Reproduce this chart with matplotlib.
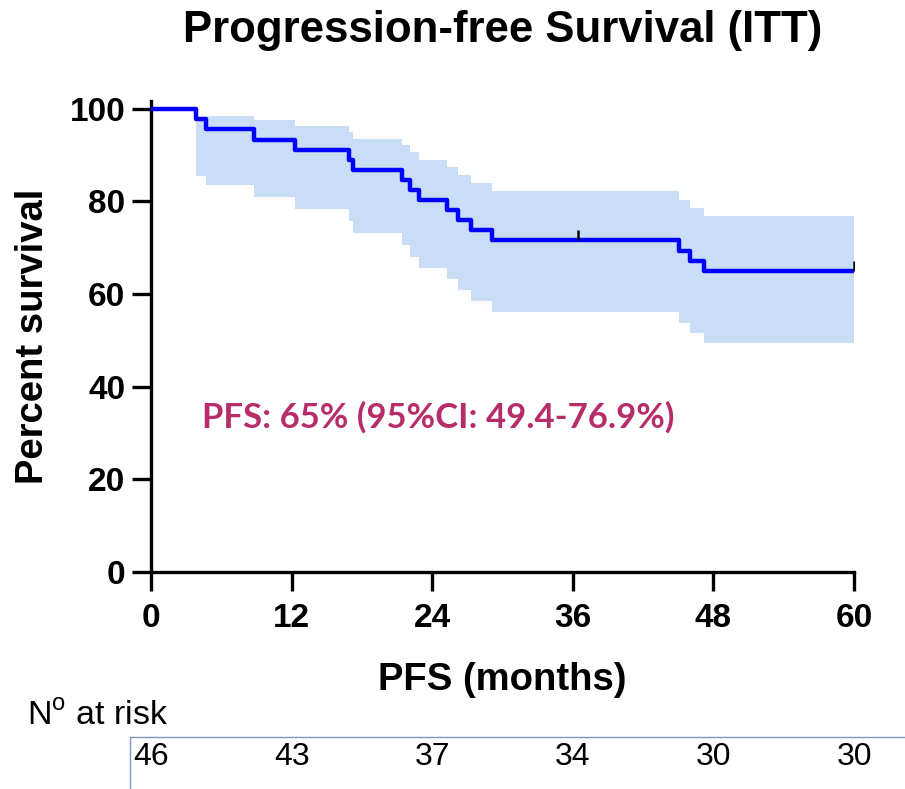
import matplotlib.pyplot as plt
from matplotlib import font_manager

# Kaplan-Meier progression-free survival, ITT population
months = [0, 3.8, 4.7, 8.8, 12.3, 16.9, 17.2, 21.4, 22.1, 22.9, 25.3, 26.2,
          27.3, 29.1, 45.1, 46.0, 47.2, 60]
survival = [100, 97.8, 95.6, 93.3, 91.1, 89.0, 86.9, 84.7, 82.5, 80.3, 78.1,
            76.0, 73.8, 71.6, 69.4, 67.2, 65.0, 65.0]
ci_upper = [100, 97.8, 98.5, 97.5, 96.4, 95.0, 93.6, 92.3, 90.6, 89.0, 87.4,
            85.7, 84.0, 82.3, 80.4, 78.6, 76.9, 76.9]
ci_lower = [100, 85.4, 83.5, 80.9, 78.3, 75.7, 73.1, 70.6, 68.1, 65.7, 63.3,
            60.9, 58.5, 56.2, 53.8, 51.5, 49.4, 49.4]

censor_months = [36.4, 60]
censor_surv = [71.6, 65.0]

risk_months = [0, 12, 24, 36, 48, 60]
at_risk = [46, 43, 37, 34, 30, 30]

installed = {f.name for f in font_manager.fontManager.ttflist}
plt.rcParams['font.family'] = ['Liberation Sans', 'DejaVu Sans']
note_font = 'Lato' if 'Lato' in installed else 'DejaVu Sans'

fig = plt.figure(figsize=(9.05, 7.89), dpi=100)
ax = fig.add_axes([0.1669, 0.2750, 0.7768, 0.5970])

ax.fill_between(months, ci_lower, ci_upper, step='post',
                color='#C9DDF6', linewidth=0, zorder=1)
ax.step(months, survival, where='post', color='#0000FF', lw=3.2, zorder=3)
ax.plot(censor_months, censor_surv, linestyle='none', color='black',
        marker=[(0, 0), (0, 1)], markersize=15, markeredgewidth=1.8, zorder=4)

ax.set_xlim(0, 60)
ax.set_ylim(0, 101.7)
ax.set_xticks([0, 12, 24, 36, 48, 60])
ax.set_yticks([0, 20, 40, 60, 80, 100])
ax.spines['top'].set_visible(False)
ax.spines['right'].set_visible(False)
for side in ('left', 'bottom'):
    ax.spines[side].set_linewidth(2.4)
ax.spines['bottom'].set_bounds(0, 60)
ax.tick_params(axis='both', length=13.5, width=2.4, labelsize=24)
ax.tick_params(axis='x', pad=9)
ax.tick_params(axis='y', pad=5)
for lbl in ax.get_xticklabels() + ax.get_yticklabels():
    lbl.set_fontweight('bold')

ax.set_xlabel('PFS (months)', fontsize=27.5, fontweight='bold')
ax.xaxis.set_label_coords(0.5, -0.19)
ax.set_ylabel('Percent survival', fontsize=27.5, fontweight='bold')
ax.yaxis.set_label_coords(-0.142, 0.5)

ax.text(0.5, 1.150, 'Progression-free Survival (ITT)', transform=ax.transAxes,
        ha='center', va='center', fontsize=31.5, fontweight='bold')

ax.text(4.35, 33.5, 'PFS: 65% (95%CI: 49.4-76.9%)', family=note_font,
        fontsize=25, fontweight='bold', color='#B62D6A', ha='left', va='center')

# number-at-risk table under the axis
fig.text(27 / 905, 1 - 716 / 789, r'N$^\mathregular{o}$ at risk',
         fontsize=24.5, ha='left', va='center')
fig.add_artist(plt.Line2D([130 / 905, 1.0], [1 - 737 / 789, 1 - 737 / 789],
                          color='#7F96BF', lw=1.0))
fig.add_artist(plt.Line2D([130 / 905, 130 / 905], [1 - 737 / 789, 0.0],
                          color='#7F96BF', lw=1.0))
row_tf = ax.get_xaxis_transform()
row_y = (757 - 572) / -471.0
for m, n in zip(risk_months, at_risk):
    ax.text(m, row_y, str(n), transform=row_tf, fontsize=23,
            ha='center', va='center', clip_on=False)

fig.savefig('out.png', dpi=100)
